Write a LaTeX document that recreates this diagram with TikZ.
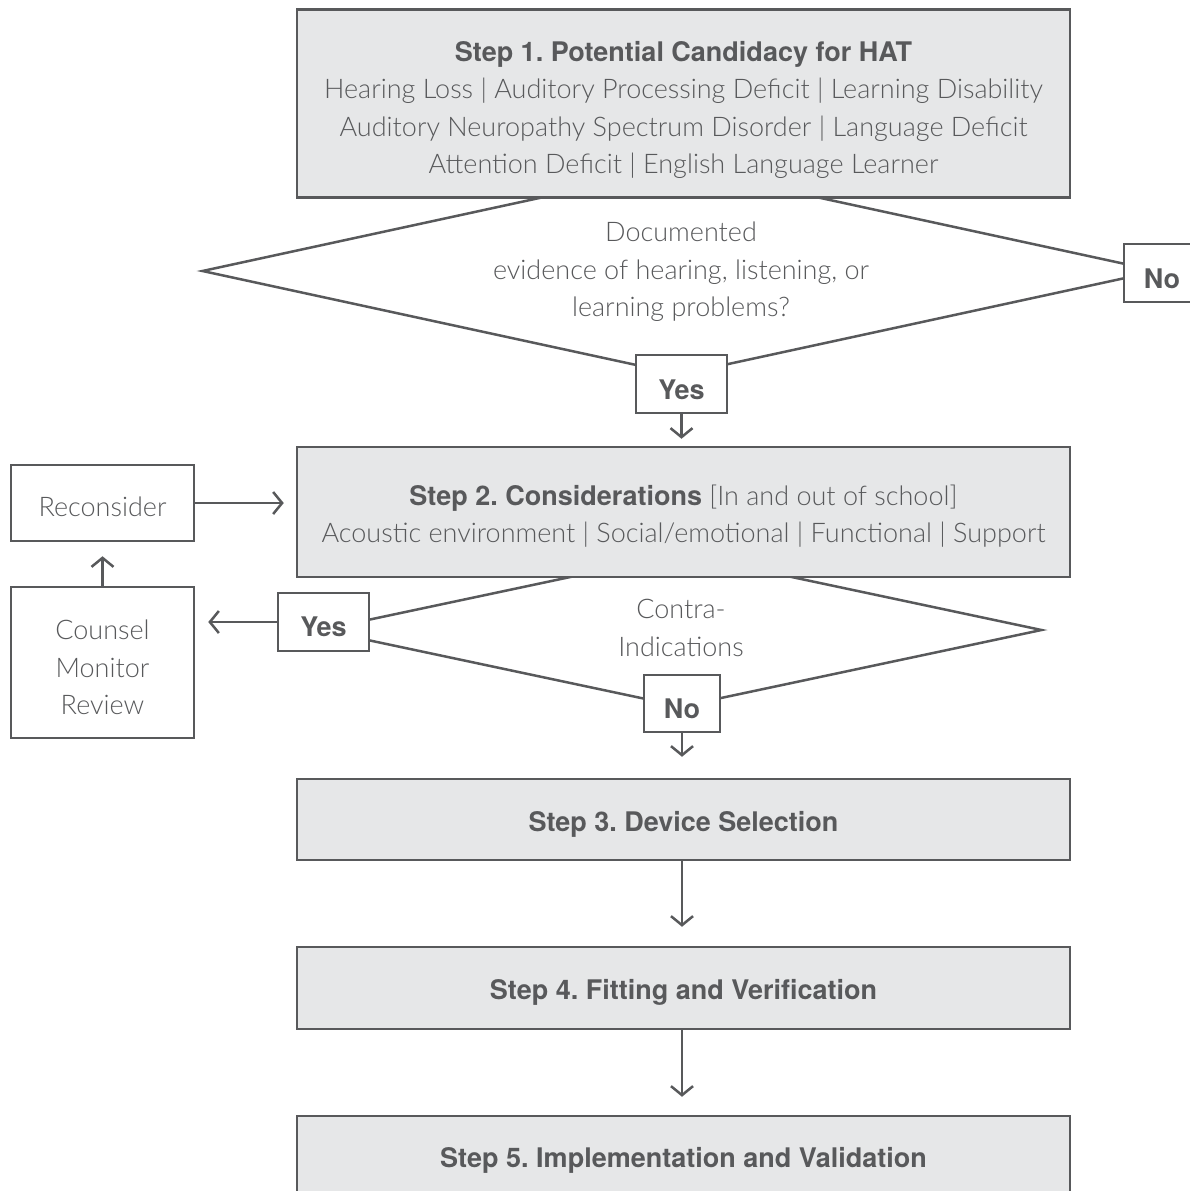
\documentclass[tikz,border=0pt]{standalone}
\usepackage{fontspec}
\setmainfont{Lato}[UprightFont={* Light},BoldFont={* Bold}]
\newfontfamily\herosfam{TeX Gyre Heros}
\newcommand\hb[1]{{\herosfam\bfseries #1}}
\usetikzlibrary{shapes.geometric,arrows.meta}
\definecolor{ln}{HTML}{58595B}
\definecolor{bx}{HTML}{E6E7E8}
\begin{document}
\frenchspacing
\begin{tikzpicture}[x=1pt,y=-1pt,
  every node/.style={text=ln, font=\fontsize{27}{37.5}\selectfont, align=center},
  stepbox/.style={draw=ln, fill=bx, line width=2.5pt, minimum width=773pt, inner sep=0pt},
  plainbox/.style={draw=ln, fill=white, line width=2.5pt, inner sep=0pt},
  decision/.style={diamond, draw=ln, fill=white, line width=2.5pt, inner sep=0pt},
  txt/.style={inner sep=0pt},
  arr/.style={draw=ln, line width=2.5pt, -{Straight Barb[length=9pt,width=22pt]}},
]
\clip (0,0) rectangle (1190,1191);
% decision 1
\node[decision, minimum width=956pt, minimum height=208pt] (d1) at (680,271) {};
\node[txt] (d1t) at (681,272) {Documented\\evidence of hearing, listening, or\\learning problems?};
\node[stepbox, minimum height=188pt] (s1) at (683.5,103.5) {};
\node[txt] (s1t) at (683.5,110)
  {\hb{Step 1. Potential Candidacy for HAT}\\
   Hearing Loss | Auditory Processing Deficit | Learning Disability\\
   Auditory Neuropathy Spectrum Disorder | Language Deficit\\
   Attention Deficit | English Language Learner};
\node[plainbox, minimum width=91pt, minimum height=58pt] (y1) at (681.5,384) {};
\node[txt] (y1t) at (681.5,390) {\hb{Yes}};
\node[plainbox, minimum width=76pt, minimum height=58pt] (n1) at (1162,273) {};
\node[txt] (n1t) at (1162,279) {\hb{No}};
% decision 2
\node[decision, minimum width=722pt, minimum height=154pt] (d2) at (681,630) {};
\node[txt] (d2t) at (681,628) {Contra-\\Indications};
\node[stepbox, minimum height=130pt] (s2) at (683.5,512) {};
\node[txt] (s2t) at (683.5,516)
  {\hb{Step 2. Considerations} [In and out of school]\\
   Acoustic environment | Social/emotional | Functional | Support};
\node[plainbox, minimum width=91pt, minimum height=58pt] (y2) at (323.5,622) {};
\node[txt] (y2t) at (323.5,627) {\hb{Yes}};
\node[plainbox, minimum width=76pt, minimum height=57pt] (n2) at (682,703.5) {};
\node[txt] (n2t) at (682,709) {\hb{No}};
% side boxes
\node[plainbox, minimum width=183pt, minimum height=76pt] (rc) at (102.5,503) {};
\node[txt] (rct) at (102.5,507) {Reconsider};
\node[plainbox, minimum width=183pt, minimum height=151pt] (cm) at (102.5,662.5) {};
\node[txt] (cmt) at (102.5,667.5) {Counsel\\Monitor\\Review};
% later steps
\node[stepbox, minimum height=81pt] (s3) at (683.5,819.5) {};
\node[txt] (s3t) at (683.5,824.5) {\hb{Step 3. Device Selection}};
\node[stepbox, minimum height=82pt] (s4) at (683.5,988) {};
\node[txt] (s4t) at (683.5,992) {\hb{Step 4. Fitting and Verification}};
\node[stepbox, minimum height=82pt] (s5) at (683.5,1157) {};
\node[txt] (s5t) at (683.5,1160) {\hb{Step 5. Implementation and Validation}};
% connectors
\draw[arr, shorten >=7pt] (y1.south) -- (y1.south |- s2.north);
\draw[arr, shorten >=12pt] (rc.east) -- (rc.east -| s2.west);
\draw[arr, shorten >=14pt] (cm.north) -- (rc.south);
\draw[arr, shorten >=13pt] (y2.west) -- (y2.west -| cm.east);
\draw[arr, shorten >=21pt] (n2.south) -- (n2.south |- s3.north);
\draw[arr, shorten >=19pt] (s3.south -| n2.south) -- (n2.south |- s4.north);
\draw[arr, shorten >=18pt] (s4.south -| n2.south) -- (n2.south |- s5.north);
\end{tikzpicture}
\end{document}
